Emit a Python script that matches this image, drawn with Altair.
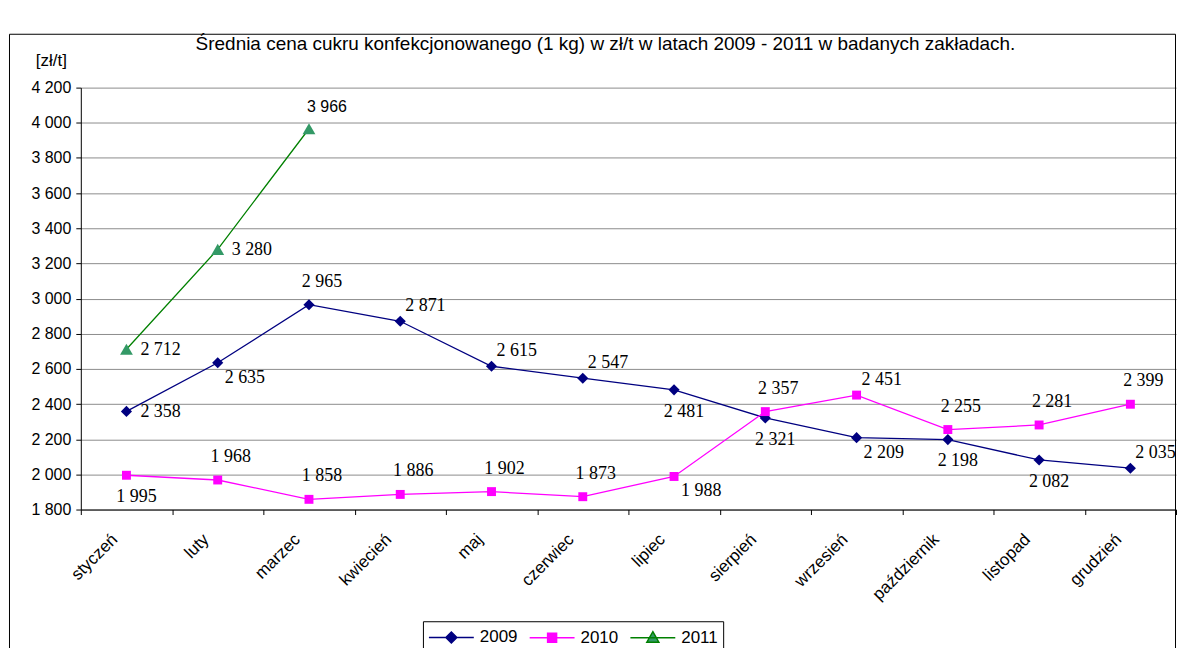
import altair as alt
import pandas as pd

# ---------------- data ----------------
months = ["styczeń", "luty", "marzec", "kwiecień", "maj", "czerwiec", "lipiec",
          "sierpień", "wrzesień", "październik", "listopad", "grudzień"]
years = ["2009", "2010", "2011"]
values_2009 = [2358, 2635, 2965, 2871, 2615, 2547, 2481, 2321, 2209, 2198, 2082, 2035]
values_2010 = [1995, 1968, 1858, 1886, 1902, 1873, 1988, 2357, 2451, 2255, 2281, 2399]
values_2011 = [2712, 3280, 3966]
y_tick_values = [1800, 2000, 2200, 2400, 2600, 2800, 3000, 3200, 3400, 3600, 3800, 4000, 4200]
title_text = "Średnia cena cukru konfekcjonowanego (1 kg) w zł/t w latach 2009 - 2011  w badanych zakładach."
y_unit = "[zł/t]"

# label placement codes (style), one per point
label_pos_2009 = ["R", "BR", "A", "AR", "AR", "AR", "B", "B", "BR", "B", "B", "AR"]
label_pos_2010 = ["B", "A", "A", "A", "A", "A", "BR", "A", "AR", "A", "A", "A"]
label_pos_2011 = ["R", "R", "AS"]

# ---------------- style ----------------
SANS = "Liberation Sans"
SERIF = "Liberation Serif"
line_colors = ["#000080", "#FF00FF", "#008000"]
marker_colors = ["#000080", "#FF00FF", "#339966"]
marker_shapes = ["diamond", "square", "triangle-up"]
marker_sizes = [125, 80, 165]
legend_paths = [
    "M-1,0H3.5M1.25,-0.55L1.8,0L1.25,0.55L0.7,0Z",
    "M-1,0H3.5M0.8,-0.45H1.7V0.45H0.8Z",
    "M-1,0H3.5M1.25,-0.6L1.85,0.45L0.65,0.45Z",
]
placements = {
    "R": ("left", 14, 1, SERIF),
    "BR": ("left", 7, 15, SERIF),
    "AR": ("left", 5, -15, SERIF),
    "A": ("center", 13, -23, SERIF),
    "B": ("center", 10, 22, SERIF),
    "AS": ("center", 18, -22, SANS),
}

rows = []
for year, vals, poss in zip(years, [values_2009, values_2010, values_2011],
                            [label_pos_2009, label_pos_2010, label_pos_2011]):
    for m, v, p in zip(months, vals, poss):
        rows.append({"miesiac": m, "rok": year, "cena": v,
                     "etykieta": f"{v:,}".replace(",", " "), "poz": p})
df = pd.DataFrame(rows)

x_enc = alt.X(
    "miesiac:N",
    scale=alt.Scale(type="band", domain=months, paddingInner=0, paddingOuter=0),
    axis=alt.Axis(title=None, labelAngle=-45, labelAlign="right", labelBaseline="middle",
                  labelFont=SANS, labelFontSize=17, labelColor="black",
                  labelPadding=22, labelOffset=-12, labelOverlap=False,
                  tickBand="extent", tickSize=5, tickColor="black",
                  domainColor="black", grid=False),
)
y_enc = alt.Y(
    "cena:Q",
    scale=alt.Scale(domain=[1800, 4200], nice=False, zero=False),
    axis=alt.Axis(values=y_tick_values,
                  labelExpr="replace(format(datum.value, ','), ',', ' ')",
                  title=y_unit, titleAngle=0, titleX=-30, titleY=-27,
                  titleAlign="center", titleBaseline="middle", titleFont=SANS,
                  titleFontSize=17, titleFontWeight="normal", titleColor="black",
                  labelFont=SANS, labelFontSize=16, labelColor="black",
                  labelPadding=5, labelOverlap=False, tickSize=5, tickColor="black",
                  domainColor="black", grid=True, gridColor="#8c8c8c", gridWidth=1),
)

stroke_scale = alt.Scale(domain=years, range=line_colors)
fill_scale = alt.Scale(domain=years, range=marker_colors)
shape_scale = alt.Scale(domain=years, range=marker_shapes)

leg = alt.Legend(orient="none", legendX=343, legendY=535, direction="horizontal",
                 title=None, strokeColor="black", fillColor="white", padding=5,
                 symbolSize=400, symbolStrokeWidth=1.5, symbolOpacity=1,
                 labelFont=SANS, labelFontSize=17, labelColor="black",
                 labelOffset=30, columnPadding=9)

border = alt.Chart(pd.DataFrame({"k": [0]})).mark_rect(
    fill="transparent", stroke="black", strokeWidth=1
).encode(x=alt.value(-71.5), x2=alt.value(1097.5), y=alt.value(-53.5), y2=alt.value(620))

legend_layer = alt.Chart(df).mark_point(filled=True, opacity=0).encode(
    x=x_enc, y=y_enc,
    fill=alt.Fill("rok:N", scale=fill_scale, legend=leg),
    stroke=alt.Stroke("rok:N", scale=stroke_scale, legend=leg),
    shape=alt.Shape("rok:N", scale=alt.Scale(domain=years, range=legend_paths), legend=leg),
)

lines = alt.Chart(df).mark_line(strokeWidth=1.3).encode(
    x=x_enc, y=y_enc,
    stroke=alt.Stroke("rok:N", scale=stroke_scale, legend=None),
)

point_layers = []
for year, msize in zip(years, marker_sizes):
    point_layers.append(
        alt.Chart(df).transform_filter(alt.datum.rok == year).mark_point(
            filled=True, opacity=1, size=msize
        ).encode(
            x=x_enc, y=y_enc,
            fill=alt.Fill("rok:N", scale=fill_scale, legend=None),
            shape=alt.Shape("rok:N", scale=shape_scale, legend=None),
        )
    )

text_layers = []
for code, (align, dx, dy, font) in placements.items():
    text_layers.append(
        alt.Chart(df).transform_filter(alt.datum.poz == code).mark_text(
            align=align, baseline="middle", dx=dx, dy=dy, font=font,
            fontSize=18 if font == SERIF else 16, color="black"
        ).encode(x=x_enc, y=y_enc, text="etykieta:N")
    )

chart = alt.layer(border, legend_layer, lines, *point_layers, *text_layers).resolve_scale(
    fill="independent", stroke="independent", shape="independent"
).properties(
    width=1098, height=423,
    padding={"left": 73, "top": 79, "right": 2, "bottom": 138},
    autosize=alt.AutoSizeParams(type="none"),
    background="white",
    title=alt.TitleParams(title_text, font=SANS, fontSize=19, fontWeight="normal",
                          color="black", anchor="middle", frame="group", offset=-35,
                          dx=-23, baseline="alphabetic"),
).configure_view(stroke="transparent")

chart.save("out.html", embed_options={"renderer": "svg", "actions": False})
